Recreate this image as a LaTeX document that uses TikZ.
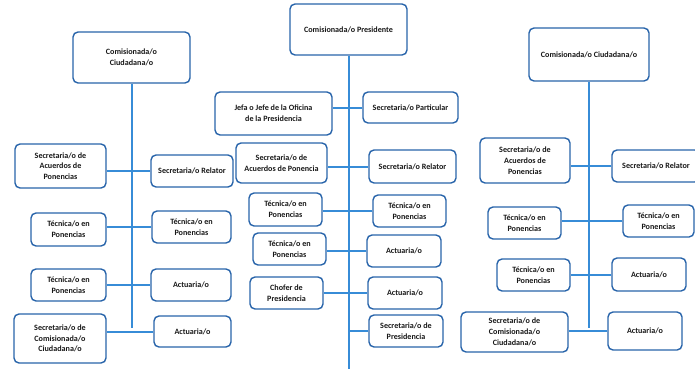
\documentclass[tikz,border=0pt]{standalone}
\usepackage{fontspec}
\setmainfont{Carlito}
\usepackage{tikz}
\definecolor{boxblue}{RGB}{40,100,170}
\definecolor{lineblue}{RGB}{55,140,215}
\definecolor{txt}{RGB}{25,25,25}

\begin{document}
\begin{tikzpicture}[x=1pt,y=-1pt,
  box/.style={draw=boxblue, line width=1.4pt, rounded corners=5pt, fill=white, align=center,
    inner sep=1pt, text=txt, font=\fontsize{8.1}{10.8}\selectfont\bfseries},
  link/.style={draw=lineblue, line width=2pt}]
\useasboundingbox (0,0) rectangle (695,369);

% columna izquierda
\node [box, minimum width=117pt, minimum height=51pt] (cc1) at (131.5,57.5) {Comisionada/o\\Ciudadana/o};
\node [box, minimum width=91pt, minimum height=44pt] (acu1) at (60.5,166) {Secretaria/o de\\Acuerdos de\\Ponencias};
\node [box, minimum width=82pt, minimum height=32pt] (rel1) at (192,171) {Secretaria/o Relator};
\node [box, minimum width=75pt, minimum height=33pt] (tec1a) at (68.5,229.5) {Técnica/o en\\Ponencias};
\node [box, minimum width=79pt, minimum height=32pt] (tec1b) at (191.5,227) {Técnica/o en\\Ponencias};
\node [box, minimum width=75pt, minimum height=32pt] (tec1c) at (68.5,285) {Técnica/o en\\Ponencias};
\node [box, minimum width=80pt, minimum height=32pt] (act1a) at (191,285) {Actuaria/o};
\node [box, minimum width=92pt, minimum height=49pt] (sec1) at (60,338.5) {Secretaria/o de\\Comisionada/o\\Ciudadana/o};
\node [box, minimum width=77pt, minimum height=31pt] (act1b) at (192.5,331.5) {Actuaria/o};
\coordinate (end1) at (cc1.south |- 0,328);

\draw [link] (cc1.south) -- (end1);
\draw [link] (rel1.west) -- (rel1.west -| acu1.east);
\draw [link] (tec1b.west) -- (tec1b.west -| tec1a.east);
\draw [link] (act1a.west) -- (act1a.west -| tec1c.east);
\draw [link] (act1b.west) -- (act1b.west -| sec1.east);

% columna central
\node [box, minimum width=117pt, minimum height=51pt] (pres) at (348.5,29.5) {Comisionada/o Presidente};
\node [box, minimum width=117pt, minimum height=43pt] (jefa) at (273.5,113.5) {Jefa o Jefe de la Oficina\\de la Presidencia};
\node [box, minimum width=95pt, minimum height=31pt] (part) at (410.5,107.5) {Secretaria/o Particular};
\node [box, minimum width=91pt, minimum height=40pt] (acu2) at (281.5,163) {Secretaria/o de\\Acuerdos de Ponencia};
\node [box, minimum width=87pt, minimum height=33pt] (rel2) at (412.5,166.5) {Secretaria/o Relator};
\node [box, minimum width=73pt, minimum height=33pt] (tec2a) at (285.5,209.5) {Técnica/o en\\Ponencias};
\node [box, minimum width=73pt, minimum height=32pt] (tec2b) at (409.5,211) {Técnica/o en\\Ponencias};
\node [box, minimum width=73pt, minimum height=32pt] (tec2c) at (289.5,249) {Técnica/o en\\Ponencias};
\node [box, minimum width=74pt, minimum height=32pt] (act2a) at (404,251) {Actuaria/o};
\node [box, minimum width=73pt, minimum height=32pt] (chof) at (286.5,293) {Chofer de\\Presidencia};
\node [box, minimum width=74pt, minimum height=32pt] (act2b) at (405,293) {Actuaria/o};
\node [box, minimum width=74pt, minimum height=32pt] (secp) at (406,331) {Secretaria/o de\\Presidencia};
\coordinate (end2) at (pres.south |- 0,369);

\draw [link] (pres.south) -- (end2);
\draw [link] (part.west) -- (part.west -| jefa.east);
\draw [link] (rel2.west) -- (rel2.west -| acu2.east);
\draw [link] (tec2b.west) -- (tec2b.west -| tec2a.east);
\draw [link] (act2a.west) -- (act2a.west -| tec2c.east);
\draw [link] (act2b.west) -- (act2b.west -| chof.east);
\draw [link] (secp.west) -- (secp.west -| pres.south);

% columna derecha
\node [box, minimum width=120pt, minimum height=53pt] (cc3) at (589,54.5) {Comisionada/o Ciudadana/o};
\node [box, minimum width=90pt, minimum height=45pt] (acu3) at (525,160.5) {Secretaria/o de\\Acuerdos de\\Ponencias};
\node [box, minimum width=88pt, minimum height=32pt] (rel3) at (656,166) {Secretaria/o Relator};
\node [box, minimum width=73pt, minimum height=32pt] (tec3a) at (524.5,223) {Técnica/o en\\Ponencias};
\node [box, minimum width=71pt, minimum height=32pt] (tec3b) at (658.5,221) {Técnica/o en\\Ponencias};
\node [box, minimum width=73pt, minimum height=32pt] (tec3c) at (533.5,275) {Técnica/o en\\Ponencias};
\node [box, minimum width=74pt, minimum height=33pt] (act3a) at (649,274.5) {Actuaria/o};
\node [box, minimum width=107pt, minimum height=40pt] (sec3) at (514.5,332) {Secretaria/o de\\Comisionada/o\\Ciudadana/o};
\node [box, minimum width=74pt, minimum height=38pt] (act3b) at (645,331) {Actuaria/o};
\coordinate (end3) at (cc3.south |- 0,328);

\draw [link] (cc3.south) -- (end3);
\draw [link] (rel3.west) -- (rel3.west -| acu3.east);
\draw [link] (tec3b.west) -- (tec3b.west -| tec3a.east);
\draw [link] (act3a.west) -- (act3a.west -| tec3c.east);
\draw [link] (act3b.west) -- (act3b.west -| sec3.east);
\end{tikzpicture}
\end{document}
